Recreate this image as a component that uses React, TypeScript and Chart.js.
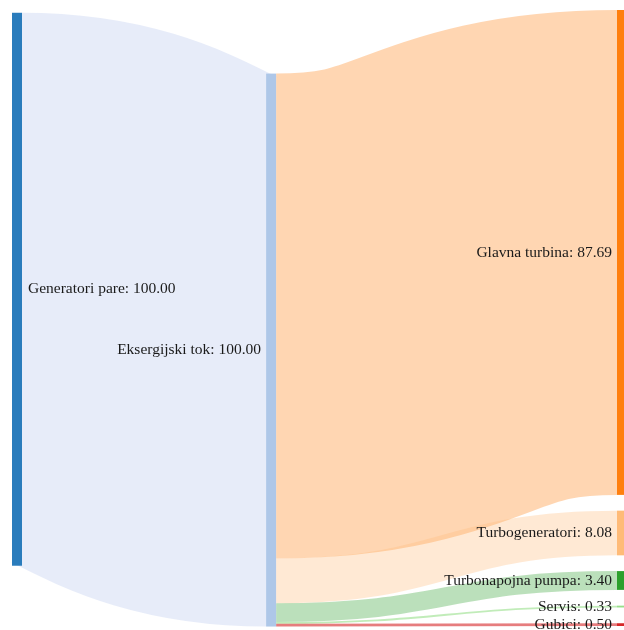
import React, { useEffect, useRef } from 'react';
import { Chart, registerables } from 'chart.js';

Chart.register(...registerables);

// ---- data ----
const nodeLabels = [
  'Generatori pare',
  'Eksergijski tok',
  'Glavna turbina',
  'Turbogeneratori',
  'Turbonapojna pumpa',
  'Servis',
  'Gubici',
];
const nodeColumns = [0, 1, 2, 2, 2, 2, 2];
const nodeColors = ['#2a7cbc', '#aec7e8', '#ff7f0e', '#ffbb78', '#2ca02c', '#98df8a', '#d62728'];
const linkSources = [0, 1, 1, 1, 1, 1];
const linkTargets = [1, 2, 3, 4, 5, 6];
const linkValues = [100.0, 87.69, 8.08, 3.4, 0.33, 0.5];
const linkColors = [
  'rgba(160,180,230,0.25)',
  'rgba(255,127,14,0.32)',
  'rgba(255,187,120,0.32)',
  'rgba(44,160,44,0.32)',
  'rgba(152,223,138,0.6)',
  'rgba(214,39,40,0.6)',
];
const columnPositions = [0, 0.42, 1];
const columnAlign = ['top', 'bottom', 'top'];

// ---- layout (in value units) ----
const NODE_PAD = 2.85;
const TOP_INSET = 0.5;

function computeLayout() {
  const n = nodeLabels.length;
  const inSum = new Array(n).fill(0);
  const outSum = new Array(n).fill(0);
  linkValues.forEach((v, i) => {
    outSum[linkSources[i]] += v;
    inSum[linkTargets[i]] += v;
  });
  const nodeValue = inSum.map((v, i) => Math.max(v, outSum[i]));
  const cols = columnPositions.map((_, c) => nodeValue.map((_, i) => i).filter((i) => nodeColumns[i] === c));
  const colHeights = cols.map((ids) => ids.reduce((s, i) => s + nodeValue[i], 0) + Math.max(0, ids.length - 1) * NODE_PAD);
  const total = Math.max(...colHeights);
  const y0 = new Array(n).fill(0);
  cols.forEach((ids, c) => {
    let start = columnAlign[c] === 'bottom' ? total - colHeights[c] + 0.1 : c === 0 ? TOP_INSET : 0;
    ids.forEach((i) => {
      y0[i] = start;
      start += nodeValue[i] + NODE_PAD;
    });
  });
  return { nodeValue, y0, total };
}

const layout = computeLayout();

const sankeyPlugin = {
  id: 'sankeyDraw',
  afterDatasetsDraw(chart: any) {
    const ctx = chart.ctx;
    const xs = chart.scales.x;
    const ys = chart.scales.y;
    const NODE_W = 10;
    const { nodeValue, y0 } = layout;
    const nx0 = nodeLabels.map((_, i) => xs.getPixelForValue(columnPositions[nodeColumns[i]]));
    const ny0 = nodeLabels.map((_, i) => ys.getPixelForValue(y0[i]));
    const ny1 = nodeLabels.map((_, i) => ys.getPixelForValue(y0[i] + nodeValue[i]));

    // links: stroked centre-line, stroke width = flow width
    const outOff = nodeLabels.map((_, i) => y0[i]);
    const inOff = nodeLabels.map((_, i) => y0[i]);
    const order = linkValues.map((_, i) => i).sort((a, b) => y0[linkTargets[a]] - y0[linkTargets[b]]);
    ctx.save();
    ctx.lineCap = 'butt';
    order.forEach((li) => {
      const s = linkSources[li];
      const t = linkTargets[li];
      const v = linkValues[li];
      const sa = ys.getPixelForValue(outOff[s]);
      const sb = ys.getPixelForValue(outOff[s] + v);
      const ta = ys.getPixelForValue(inOff[t]);
      const tb = ys.getPixelForValue(inOff[t] + v);
      outOff[s] += v;
      inOff[t] += v;
      const x0 = nx0[s] + NODE_W;
      const x1 = nx0[t];
      const xm = (x0 + x1) / 2;
      const ym0 = (sa + sb) / 2;
      const ym1 = (ta + tb) / 2;
      ctx.beginPath();
      ctx.moveTo(x0, ym0);
      ctx.bezierCurveTo(xm, ym0, xm, ym1, x1, ym1);
      ctx.lineWidth = Math.max(1, sb - sa);
      ctx.strokeStyle = linkColors[li];
      ctx.stroke();
    });

    // nodes
    nodeLabels.forEach((_, i) => {
      ctx.fillStyle = nodeColors[i];
      ctx.fillRect(nx0[i], ny0[i], NODE_W, Math.max(1.5, ny1[i] - ny0[i]));
    });

    // labels
    ctx.font = '15.5px "Liberation Serif", "Times New Roman", serif';
    ctx.fillStyle = '#1a1a1a';
    ctx.textBaseline = 'middle';
    nodeLabels.forEach((lab, i) => {
      const text = `${lab}: ${nodeValue[i].toFixed(2)}`;
      const cy = (ny0[i] + ny1[i]) / 2;
      if (nodeColumns[i] === 0) {
        ctx.textAlign = 'left';
        ctx.fillText(text, nx0[i] + NODE_W + 6, cy);
      } else {
        ctx.textAlign = 'right';
        ctx.fillText(text, nx0[i] - 5, cy);
      }
    });
    ctx.restore();
  },
};

export default function App() {
  const ref = useRef<HTMLCanvasElement | null>(null);
  useEffect(() => {
    document.body.style.margin = '0';
    if (!ref.current) return;
    const { nodeValue, y0, total } = layout;
    const chart = new Chart(ref.current, {
      type: 'scatter',
      data: {
        datasets: [
          {
            data: nodeLabels.map((_, i) => ({ x: columnPositions[nodeColumns[i]], y: y0[i] + nodeValue[i] / 2 })),
            pointRadius: 0,
            showLine: false,
          },
        ],
      },
      options: {
        responsive: false,
        animation: false,
        layout: { padding: { left: 12, right: 7, top: 10, bottom: 4 } },
        plugins: { legend: { display: false }, tooltip: { enabled: false } },
        scales: {
          x: { type: 'linear', min: 0, max: 1, display: false },
          y: { type: 'linear', min: 0, max: total, reverse: true, display: false },
        },
      },
      plugins: [sankeyPlugin],
    });
    return () => chart.destroy();
  }, []);
  return (
    <div style={{ width: 624, height: 630 }}>
      <canvas ref={ref} width={624} height={630} style={{ display: 'block' }} />
    </div>
  );
}
